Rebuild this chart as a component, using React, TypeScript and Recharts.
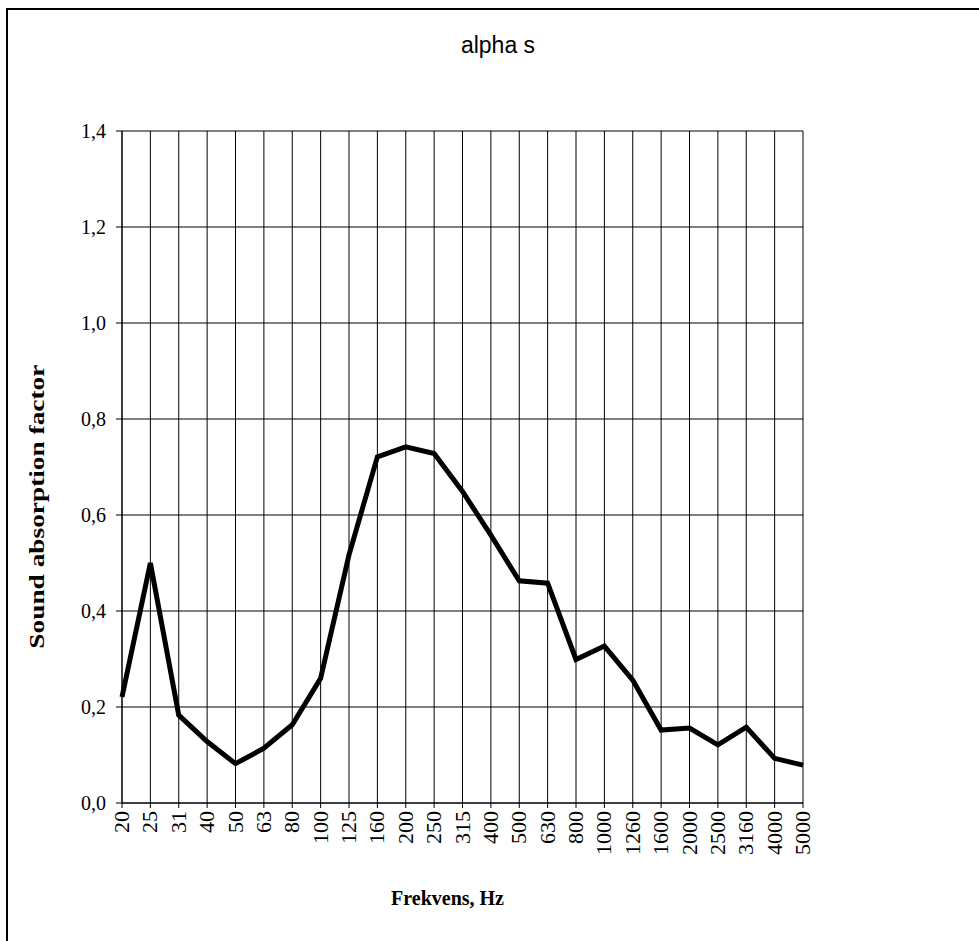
import { CartesianGrid, Line, LineChart, XAxis, YAxis } from "recharts";

const frequencies = [
  "20", "25", "31", "40", "50", "63", "80", "100", "125", "160", "200", "250", "315",
  "400", "500", "630", "800", "1000", "1260", "1600", "2000", "2500", "3160", "4000", "5000",
];

const alphaS = [
  0.221, 0.5, 0.183, 0.128, 0.082, 0.114, 0.163, 0.26, 0.517, 0.721, 0.742, 0.728, 0.649,
  0.558, 0.463, 0.458, 0.299, 0.327, 0.256, 0.152, 0.156, 0.121, 0.158, 0.093, 0.079,
];

const yTicks = [0, 0.2, 0.4, 0.6, 0.8, 1.0, 1.2, 1.4];

const data = frequencies.map((f, i) => ({ freq: f, alpha: alphaS[i] }));

const serif = "'Liberation Serif', 'Times New Roman', serif";
const sans = "'Liberation Sans', Arial, sans-serif";

function FreqTick(props: any) {
  const { x, y, payload } = props;
  return (
    <g transform={`translate(${x},${y + 1}) rotate(-90) scale(1.1,1)`}>
      <text x={0} y={0} dy="0.35em" textAnchor="end" fontFamily={serif} fontSize={20} fill="#000">
        {payload.value}
      </text>
    </g>
  );
}

function YTitle(props: any) {
  const vb = props.viewBox;
  const x = vb.x - 25;
  const y = vb.y + vb.height * 0.559;
  return (
    <text
      x={x}
      y={y}
      transform={`rotate(-90, ${x}, ${y})`}
      textAnchor="middle"
      dominantBaseline="central"
      fontFamily={serif}
      fontWeight="bold"
      fontSize={20}
      fill="#000"
      textLength={284}
      lengthAdjust="spacingAndGlyphs"
    >
      Sound absorption factor
    </text>
  );
}

function XTitle(props: any) {
  const vb = props.viewBox;
  return (
    <text
      x={vb.x + vb.width * 0.478}
      y={vb.y + 102}
      textAnchor="middle"
      fontFamily={serif}
      fontWeight="bold"
      fontSize={20}
      fill="#000"
    >
      Frekvens, Hz
    </text>
  );
}

export default function App() {
  return (
    <div style={{ position: "fixed", left: 0, top: 0, width: 979, height: 941, background: "#fff" }}>
      <div
        style={{
          position: "absolute",
          left: 6,
          top: 8,
          right: 0,
          bottom: 0,
          borderTop: "2px solid #000",
          borderLeft: "2px solid #000",
        }}
      />
      <div
        style={{
          position: "absolute",
          left: 0,
          top: 34,
          width: 996,
          textAlign: "center",
          fontFamily: sans,
          fontSize: 23,
          lineHeight: 1,
          color: "#000",
        }}
      >
        alpha s
      </div>
      <div style={{ position: "absolute", left: 0, top: 0 }}>
        <LineChart
          width={979}
          height={941}
          data={data}
          margin={{ top: 131, right: 176, bottom: 78, left: 62 }}
        >
          <CartesianGrid stroke="#000" strokeWidth={1} />
          <XAxis
            dataKey="freq"
            interval={0}
            height={60}
            tick={<FreqTick />}
            tickSize={5}
            axisLine={{ stroke: "#000" }}
            tickLine={{ stroke: "#000" }}
            label={{ content: <XTitle /> }}
          />
          <YAxis
            domain={[0, 1.4]}
            ticks={yTicks}
            width={60}
            tickSize={6}
            tickMargin={10}
            tickFormatter={(v: number) => v.toFixed(1).replace(".", ",")}
            tick={{ fontFamily: serif, fontSize: 20, fill: "#000" }}
            axisLine={{ stroke: "#000" }}
            tickLine={{ stroke: "#000" }}
            label={{ content: <YTitle /> }}
          />
          <Line
            type="linear"
            dataKey="alpha"
            stroke="#000"
            strokeWidth={5}
            dot={false}
            isAnimationActive={false}
          />
        </LineChart>
      </div>
    </div>
  );
}
